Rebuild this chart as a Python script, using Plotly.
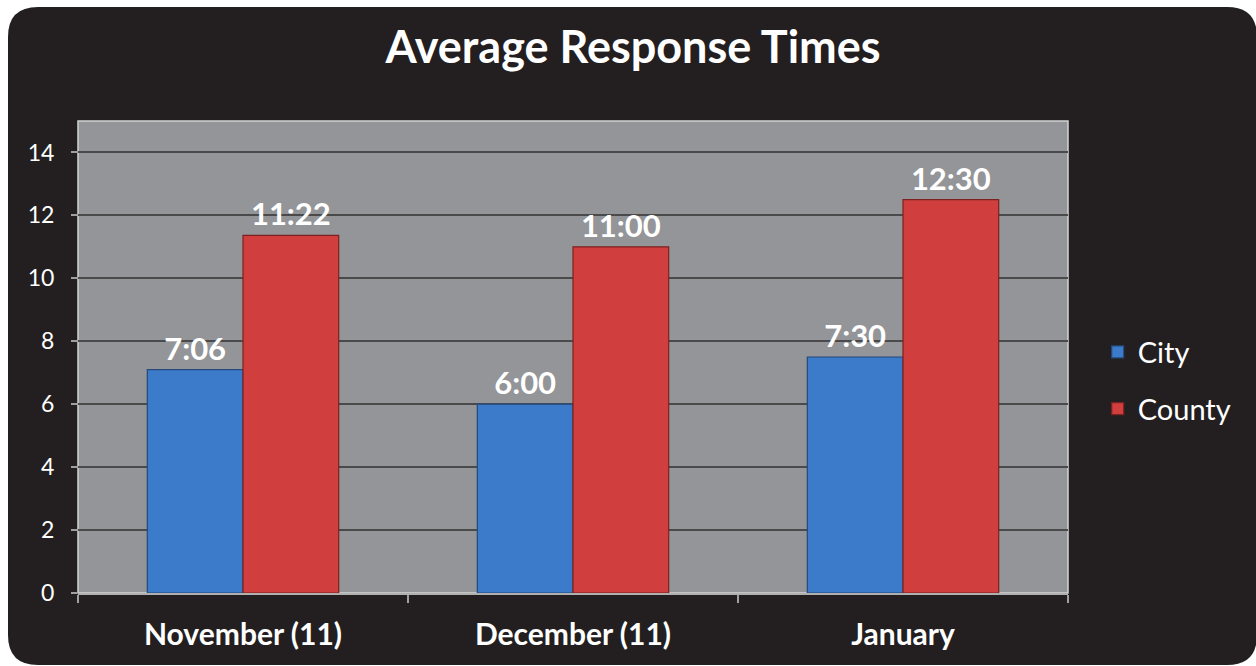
import plotly.graph_objects as go

categories = ["November (11)", "December (11)", "January"]
city_minutes = [7.1, 6.0, 7.5]
county_minutes = [11.3667, 11.0, 12.5]
city_labels = ["7:06", "6:00", "7:30"]
county_labels = ["11:22", "11:00", "12:30"]
y_ticks = [0, 2, 4, 6, 8, 10, 12, 14]

W, H = 1256, 666
L, R, T, B = 78, 188, 121, 73
PW, PH = W - L - R, H - T - B
FONT = "Lato"

fig = go.Figure()
fig.add_trace(go.Bar(
    name="City", x=categories, y=city_minutes, text=city_labels,
    textposition="outside", cliponaxis=False,
    textfont=dict(family=FONT, size=31, color="white", weight="bold"),
    marker=dict(color="#3b7bc9", line=dict(color="#24497a", width=1.2)),
    legendgroup="a",
))
fig.add_trace(go.Bar(
    name="County", x=categories, y=county_minutes, text=county_labels,
    textposition="outside", cliponaxis=False,
    textfont=dict(family=FONT, size=31, color="white", weight="bold"),
    marker=dict(color="#d13e3e", line=dict(color="#7d2020", width=1.2)),
    legendgroup="b",
))

def px_x(p):
    return (p - L) / PW

def px_y(p):
    return (H - B - p) / PH

x0, x1 = px_x(8), px_x(1257)
y1, y0 = px_y(7), px_y(665)
rx, ry = 30 / PW, 30 / PH
path = (f"M{x0+rx},{y1} L{x1-rx},{y1} Q{x1},{y1} {x1},{y1-ry} L{x1},{y0+ry} "
        f"Q{x1},{y0} {x1-rx},{y0} L{x0+rx},{y0} Q{x0},{y0} {x0},{y0+ry} "
        f"L{x0},{y1-ry} Q{x0},{y1} {x0+rx},{y1} Z")

fig.update_layout(
    width=W, height=H,
    margin=dict(l=L, r=R, t=T, b=B),
    paper_bgcolor="white",
    plot_bgcolor="#939598",
    barmode="group", bargap=0.42, bargroupgap=0,
    font=dict(family=FONT, color="white"),
    title=dict(text="<b>Average Response Times</b>", x=633 / W, xanchor="center",
               y=1 - 47 / H, yanchor="middle", xref="container", yref="container",
               font=dict(family=FONT, size=45, color="white")),
    shapes=[
        dict(type="path", path=path, xref="paper", yref="paper",
             fillcolor="#231f20", line=dict(width=0), layer="below"),
        dict(type="rect", x0=0, x1=1, y0=0, y1=1, xref="paper", yref="paper",
             fillcolor="#939598", line=dict(color="#d4d4d4", width=1.5), layer="below"),
    ],
    legend=dict(x=1.03, xanchor="left", y=0.45, yanchor="middle",
                font=dict(family=FONT, size=29, color="white"),
                bgcolor="rgba(0,0,0,0)", tracegroupgap=16, traceorder="grouped"),
    showlegend=True,
)
fig.update_xaxes(
    showgrid=False, showline=True, linecolor="#b0b0b0", linewidth=2,
    ticks="outside", tickson="boundaries", ticklen=8, tickcolor="#a0a0a0", tickwidth=2,
    ticklabelstandoff=14,
    tickfont=dict(family=FONT, size=30, color="white", weight="bold"),
)
fig.update_yaxes(
    range=[0, 15], tickvals=y_ticks, showgrid=True, gridcolor="#4a4a4a", gridwidth=1.5,
    showline=False, zeroline=False,
    ticks="outside", ticklen=6, tickcolor="#a0a0a0", tickwidth=2,
    ticklabelstandoff=12,
    tickfont=dict(family=FONT, size=23, color="white"),
)

fig.write_html("out.html", config={"displayModeBar": False},
               post_script="document.body.style.margin='0';document.body.style.overflow='hidden';")
